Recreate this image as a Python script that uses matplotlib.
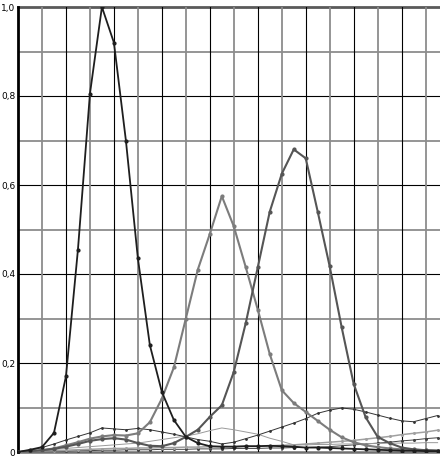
import numpy as np
import matplotlib
matplotlib.use("Agg")
import matplotlib.pyplot as plt

# sample index along x (one step = half a grid cell)
x = np.arange(36)

# main peaks
black_peak = [0.0, 0.005, 0.011, 0.043, 0.17, 0.455, 0.805, 1.0, 0.92, 0.70,
              0.435, 0.24, 0.135, 0.072, 0.034, 0.02, 0.013, 0.012, 0.012, 0.013,
              0.013, 0.014, 0.013, 0.012, 0.01, 0.01, 0.009, 0.008, 0.007, 0.006,
              0.005, 0.004, 0.003, 0.003, 0.002, 0.002]
gray_peak = [0.0, 0.002, 0.004, 0.008, 0.015, 0.022, 0.03, 0.035, 0.038, 0.037,
             0.042, 0.067, 0.12, 0.19, 0.30, 0.41, 0.49, 0.575, 0.507, 0.415,
             0.32, 0.22, 0.139, 0.11, 0.09, 0.07, 0.05, 0.033, 0.022, 0.015,
             0.011, 0.008, 0.006, 0.005, 0.004, 0.003]
dark_peak = [0.0, 0.002, 0.004, 0.007, 0.012, 0.018, 0.025, 0.029, 0.031, 0.028,
             0.02, 0.014, 0.013, 0.02, 0.034, 0.05, 0.079, 0.105, 0.18, 0.29,
             0.415, 0.54, 0.625, 0.68, 0.66, 0.54, 0.417, 0.28, 0.153, 0.078,
             0.034, 0.02, 0.01, 0.006, 0.004, 0.003]

# thin background traces
thin_dark = [0.0, 0.004, 0.01, 0.018, 0.027, 0.035, 0.043, 0.054, 0.052, 0.05,
             0.053, 0.05, 0.045, 0.04, 0.034, 0.028, 0.024, 0.018, 0.022, 0.03,
             0.038, 0.047, 0.056, 0.065, 0.075, 0.087, 0.094, 0.099, 0.096, 0.09,
             0.083, 0.076, 0.07, 0.068, 0.075, 0.082]
thin_light = [0.0, 0.002, 0.004, 0.006, 0.008, 0.01, 0.012, 0.014, 0.016, 0.018,
              0.02, 0.024, 0.028, 0.032, 0.036, 0.041, 0.048, 0.054, 0.05, 0.045,
              0.04, 0.031, 0.024, 0.016, 0.016, 0.017, 0.017, 0.018, 0.018, 0.019,
              0.019, 0.02, 0.02, 0.02, 0.021, 0.021]
rise_light = [0.0, 0.001, 0.002, 0.003, 0.004, 0.005, 0.006, 0.007, 0.008, 0.008,
              0.009, 0.009, 0.01, 0.01, 0.011, 0.011, 0.012, 0.012, 0.012, 0.013,
              0.013, 0.014, 0.015, 0.016, 0.018, 0.02, 0.022, 0.024, 0.026, 0.029,
              0.032, 0.035, 0.039, 0.042, 0.045, 0.049]
rise_dark = [0.0, 0.001, 0.001, 0.002, 0.002, 0.003, 0.003, 0.004, 0.004, 0.005,
             0.005, 0.005, 0.006, 0.006, 0.006, 0.007, 0.007, 0.007, 0.008, 0.008,
             0.008, 0.009, 0.009, 0.01, 0.01, 0.011, 0.012, 0.014, 0.016, 0.018,
             0.02, 0.022, 0.025, 0.027, 0.03, 0.032]

ytick_vals = [0.0, 0.2, 0.4, 0.6, 0.8, 1.0]
ytick_text = ["0", "0,2", "0,4", "0,6", "0,8", "1,0"]

fig = plt.figure(figsize=(4.4, 4.57), dpi=100)
ax = fig.add_axes([18 / 440, 5 / 457, 1 - 18 / 440, 445 / 457])
ax.set_xlim(0, 35.2)
ax.set_ylim(0, 1.0)

# grid: alternating gray / black lines
for k in range(1, 10):
    if k % 2:
        ax.axhline(k / 10, color="#8c8c8c", lw=1.3, zorder=0)
    else:
        ax.axhline(k / 10, color="black", lw=0.8, zorder=0)
ax.axhline(1.0, color="#5a5a5a", lw=2.0, zorder=0, clip_on=False)
ax.axhline(0.0, color="#707070", lw=1.8, zorder=0, clip_on=False)
for k in range(2, 36, 2):
    if k % 4:
        ax.axvline(k, color="#8c8c8c", lw=1.3, zorder=0)
    else:
        ax.axvline(k, color="black", lw=0.8, zorder=0)

# thin traces first
ax.plot(x, rise_dark, color="#444444", lw=0.7, marker="o", ms=1.2, zorder=2)
ax.plot(x, rise_light, color="#a0a0a0", lw=1.1, marker="o", ms=1.2, zorder=2)
ax.plot(x, thin_light, color="#9a9a9a", lw=0.7, zorder=2)
ax.plot(x, thin_dark, color="#333333", lw=0.7, marker="o", ms=1.0, zorder=2)

# main curves
ax.plot(x, gray_peak, color="#7c7c7c", lw=1.5, marker="o", ms=2.0, zorder=3)
ax.plot(x, dark_peak, color="#555555", lw=1.5, marker="o", ms=2.0, zorder=3)
ax.plot(x, black_peak, color="#1e1e1e", lw=1.3, marker="o", ms=2.0, zorder=4)

for s in ["top", "right", "bottom"]:
    ax.spines[s].set_visible(False)
ax.spines["left"].set_linewidth(2.0)
ax.spines["left"].set_color("black")

ax.set_xticks([])
ax.set_yticks(ytick_vals)
ax.set_yticklabels(ytick_text, fontsize=6.5, family="DejaVu Sans")
ax.tick_params(axis="y", length=0, pad=2)

fig.savefig("out.png", dpi=100)
